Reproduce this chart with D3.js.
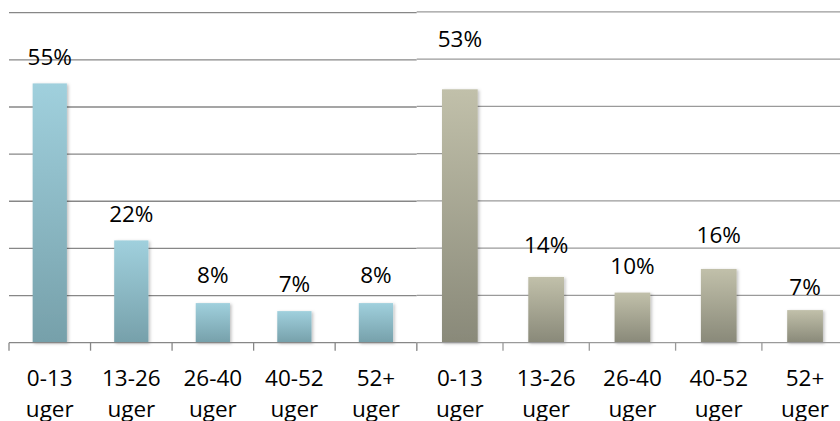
<!DOCTYPE html>
<html>
<head>
<meta charset="utf-8">
<script src="https://cdn.jsdelivr.net/npm/d3@7"></script>
<style>
  body { margin: 0; background: #fff; overflow: hidden; }
  svg { display: block; font-family: "Open Sans", sans-serif; }
</style>
</head>
<body>
<div id="plot"></div>
<script>
// periods (two lines each)
const periods = ["0-13", "13-26", "26-40", "40-52", "52+"];
const unit = "uger";

// left panel (blue) and right panel (grey) values
const leftValues = [55, 21.7, 8.4, 6.7, 8.4];
const leftLabels = ["55%", "22%", "8%", "7%", "8%"];
const rightValues = [53.6, 13.9, 10.6, 15.6, 6.9];
const rightLabels = ["53%", "14%", "10%", "16%", "7%"];

// label gap above bar top (labels in the original were nudged by hand)
const leftGap = [18.7, 18, 19.7, 19.3, 19.7];
const rightGap = [42, 23.7, 18.4, 26, 15];

const gridTicks = [0, 10, 20, 30, 40, 50, 60, 70];

const W = 840, H = 421;
const svg = d3.select("#plot").append("svg")
  .attr("width", W).attr("height", H);

const defs = svg.append("defs");
function grad(id, top, bottom){
  const g = defs.append("linearGradient").attr("id", id)
    .attr("x1", 0).attr("y1", 0).attr("x2", 0).attr("y2", 1);
  g.append("stop").attr("offset", "0%").attr("stop-color", top);
  g.append("stop").attr("offset", "100%").attr("stop-color", bottom);
}
grad("blue", "#a0d0dd", "#76a0aa");
grad("grey", "#c1c0aa", "#898979");
defs.append("filter").attr("id", "shadow")
  .attr("x", "-20%").attr("y", "-10%").attr("width", "150%").attr("height", "130%")
  .append("feDropShadow")
    .attr("dx", 1.5).attr("dy", 1).attr("stdDeviation", 1.6)
    .attr("flood-color", "#000").attr("flood-opacity", 0.25);

function panel(opts){
  // bars centred in equal bands: outer padding is half the inner one
  const x = d3.scaleBand()
    .domain(periods)
    .range([opts.x0, opts.x1])
    .paddingInner(opts.pad)
    .paddingOuter(opts.pad / 2);
  const y = d3.scaleLinear()
    .domain([0, 70])
    .range([342.7, opts.top]);

  const g = svg.append("g");

  // gridlines
  g.selectAll("line.grid")
    .data(gridTicks.slice(1))
    .enter().append("line")
      .attr("x1", opts.x0).attr("x2", opts.x1)
      .attr("y1", d => y(d)).attr("y2", d => y(d))
      .attr("stroke", opts.gridColor).attr("stroke-width", 1.3);

  // bars
  g.selectAll("rect")
    .data(opts.values)
    .enter().append("rect")
      .attr("x", (d, i) => x(periods[i]))
      .attr("width", x.bandwidth())
      .attr("y", d => y(d))
      .attr("height", d => y(0) - y(d))
      .attr("fill", "url(#" + opts.fill + ")")
      .attr("filter", "url(#shadow)");

  // axis line + ticks at band edges
  g.append("line")
    .attr("x1", opts.x0).attr("x2", opts.x1)
    .attr("y1", y(0)).attr("y2", y(0))
    .attr("stroke", opts.gridColor).attr("stroke-width", 1.3);
  const step = x.step();
  const edges = d3.range(periods.length + 1).map(i => opts.x0 + i * step);
  g.selectAll("line.tick")
    .data(edges)
    .enter().append("line")
      .attr("x1", d => d).attr("x2", d => d)
      .attr("y1", y(0)).attr("y2", y(0) + 8)
      .attr("stroke", opts.gridColor).attr("stroke-width", 1.3);

  // value labels
  g.selectAll("text.val")
    .data(opts.values)
    .enter().append("text")
      .attr("x", (d, i) => x(periods[i]) + x.bandwidth() / 2)
      .attr("y", (d, i) => y(d) - opts.gaps[i])
      .attr("text-anchor", "middle")
      .attr("font-size", "22.5px")
      .attr("fill", "#000")
      .text((d, i) => opts.labels[i]);

  // category labels
  const cat = g.selectAll("text.cat")
    .data(periods)
    .enter().append("text")
      .attr("text-anchor", "middle")
      .attr("font-size", "22.5px")
      .attr("fill", "#000");
  cat.append("tspan")
    .attr("x", d => x(d) + x.bandwidth() / 2)
    .attr("y", 386)
    .text(d => d);
  cat.append("tspan")
    .attr("x", d => x(d) + x.bandwidth() / 2)
    .attr("y", 417)
    .text(unit);
}

panel({x0: 9, x1: 416.7, top: 12.7, pad: 0.58, values: leftValues, labels: leftLabels,
       gaps: leftGap, fill: "blue", gridColor: "#878787"});
panel({x0: 416.7, x1: 848.2, top: 11.8, pad: 0.586, values: rightValues, labels: rightLabels,
       gaps: rightGap, fill: "grey", gridColor: "#9a9a9a"});
</script>
</body>
</html>
